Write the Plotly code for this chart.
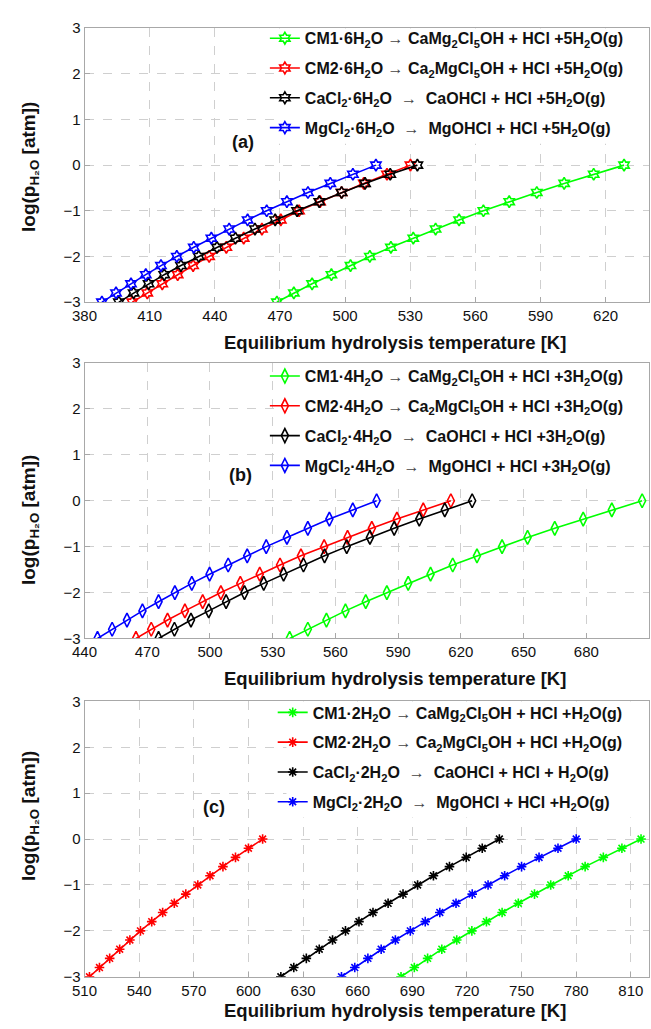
import plotly.graph_objects as go

# log10 of water partial pressure at which each curve is evaluated
log_p = [-3.0, -2.8, -2.6, -2.4, -2.2, -2.0, -1.8, -1.6, -1.4, -1.2, -1.0, -0.8, -0.6, -0.4, -0.2, 0.0]

# (a) hexahydrates -> equilibrium hydrolysis temperature [K]
t_a_cm1 = [468.6, 476.4, 484.8, 493.7, 502.5, 511.4, 521.1, 531.4, 541.7, 552.5, 563.7, 575.6, 588.3, 600.9, 614.5, 628.5]
t_a_cm2 = [402.0, 408.9, 415.8, 422.9, 430.0, 437.4, 445.3, 453.3, 461.7, 470.4, 478.8, 488.5, 498.4, 508.6, 519.3, 530.1]
t_a_ca = [395.8, 402.6, 409.5, 416.7, 424.4, 432.6, 441.0, 449.5, 458.5, 467.8, 477.9, 488.1, 498.4, 509.2, 520.8, 533.3]
t_a_mg = [388.0, 394.5, 401.4, 408.2, 415.2, 422.5, 430.3, 438.4, 446.6, 455.1, 463.9, 473.2, 482.9, 493.2, 503.6, 514.2]

# (b) tetrahydrates
t_b_cm1 = [538.1, 546.8, 555.7, 564.8, 574.5, 584.6, 594.8, 605.5, 616.1, 627.7, 639.7, 651.9, 664.9, 678.5, 692.2, 706.7]
t_b_cm2 = [464.6, 471.9, 479.7, 488.0, 496.5, 505.2, 514.5, 523.8, 533.5, 543.5, 554.6, 565.8, 577.4, 589.4, 602.0, 615.2]
t_b_ca = [475.4, 483.0, 490.9, 499.4, 507.7, 516.5, 525.7, 535.2, 544.7, 554.8, 565.4, 576.5, 588.1, 600.1, 612.3, 625.4]
t_b_mg = [446.2, 453.2, 460.3, 467.7, 475.4, 483.2, 491.3, 499.8, 508.7, 517.8, 526.9, 536.8, 546.8, 557.1, 568.3, 579.7]

# (c) dihydrates
t_c_cm1 = [683.8, 691.1, 698.4, 706.2, 714.4, 722.7, 730.7, 739.3, 748.2, 757.1, 766.0, 775.6, 784.9, 794.9, 805.1, 815.6]
t_c_cm2 = [512.7, 518.2, 523.8, 529.3, 534.9, 540.7, 546.9, 552.9, 559.3, 565.6, 572.2, 578.9, 586.0, 592.9, 600.0, 607.8]
t_c_ca = [617.8, 624.9, 631.8, 638.9, 646.2, 653.3, 660.7, 668.4, 676.7, 684.9, 692.9, 701.6, 710.4, 719.6, 728.4, 737.8]
t_c_mg = [651.1, 658.4, 665.6, 672.9, 680.7, 688.9, 697.1, 705.1, 714.0, 722.9, 731.6, 740.7, 750.0, 759.6, 770.0, 780.0]

x_ticks_a = [380, 410, 440, 470, 500, 530, 560, 590, 620]
x_ticks_b = [440, 470, 500, 530, 560, 590, 620, 650, 680]
x_ticks_c = [510, 540, 570, 600, 630, 660, 690, 720, 750, 780, 810]
y_ticks = [-3, -2, -1, 0, 1, 2, 3]

ARW = '<span style="font-weight:normal;fill:#444444"> \u2192 </span>'
NB = "\u00a0"

labels_a = [
    "CM1\u00b76H<sub>2</sub>O" + ARW + "CaMg<sub>2</sub>Cl<sub>5</sub>OH + HCl +5H<sub>2</sub>O(g)",
    "CM2\u00b76H<sub>2</sub>O" + ARW + "Ca<sub>2</sub>MgCl<sub>5</sub>OH + HCl +5H<sub>2</sub>O(g)",
    "CaCl<sub>2</sub>\u00b76H<sub>2</sub>O" + NB + ARW + NB + "CaOHCl + HCl +5H<sub>2</sub>O(g)",
    "MgCl<sub>2</sub>\u00b76H<sub>2</sub>O" + NB + ARW + NB + "MgOHCl + HCl +5H<sub>2</sub>O(g)",
]
labels_b = [
    "CM1\u00b74H<sub>2</sub>O" + ARW + "CaMg<sub>2</sub>Cl<sub>5</sub>OH + HCl +3H<sub>2</sub>O(g)",
    "CM2\u00b74H<sub>2</sub>O" + ARW + "Ca<sub>2</sub>MgCl<sub>5</sub>OH + HCl +3H<sub>2</sub>O(g)",
    "CaCl<sub>2</sub>\u00b74H<sub>2</sub>O" + NB + ARW + NB + "CaOHCl + HCl +3H<sub>2</sub>O(g)",
    "MgCl<sub>2</sub>\u00b74H<sub>2</sub>O" + NB + ARW + NB + "MgOHCl + HCl +3H<sub>2</sub>O(g)",
]
labels_c = [
    "CM1\u00b72H<sub>2</sub>O" + ARW + "CaMg<sub>2</sub>Cl<sub>5</sub>OH + HCl +H<sub>2</sub>O(g)",
    "CM2\u00b72H<sub>2</sub>O" + ARW + "Ca<sub>2</sub>MgCl<sub>5</sub>OH + HCl +H<sub>2</sub>O(g)",
    "CaCl<sub>2</sub>\u00b72H<sub>2</sub>O" + NB + ARW + NB + "CaOHCl + HCl + H<sub>2</sub>O(g)",
    "MgCl<sub>2</sub>\u00b72H<sub>2</sub>O" + NB + ARW + NB + "MgOHCl + HCl +H<sub>2</sub>O(g)",
]

colors = ["#00ff00", "#ff0000", "#000000", "#0000ff"]
FONT = "Liberation Sans, Arial, sans-serif"

W, H = 651, 1029
X0, X1 = 73, 649  # plot area left/right in pixels


def py(px):
    """Pixel row -> paper y."""
    return 1 - px / H


def px_(px):
    return px / W


panels = [
    dict(series=[t_a_cm1, t_a_cm2, t_a_ca, t_a_mg], labels=labels_a, symbol="hexagram-open",
         size=9, xr=[380, 640], ticks=x_ticks_a, top=19.5, bot=298, legend="legend",
         tag="(a)", tagpos=(235, 135), ytitle=161, xtitle=339, leg=(257, 12.5), box=137),
    dict(series=[t_b_cm1, t_b_cm2, t_b_ca, t_b_mg], labels=labels_b, symbol="diamond-tall-open",
         size=10, xr=[440, 710], ticks=x_ticks_b, top=360, bot=640, legend="legend2",
         tag="(b)", tagpos=(232, 474), ytitle=520, xtitle=681, leg=(257, 356), box=482),
    dict(series=[t_c_cm1, t_c_cm2, t_c_ca, t_c_mg], labels=labels_c, symbol="asterisk-open",
         size=8, xr=[510, 820], ticks=x_ticks_c, top=704, bot=984, legend="legend3",
         tag="(c)", tagpos=(205, 811), ytitle=821, xtitle=1018, leg=(265, 698), box=822),
]

fig = go.Figure()
layout = dict(
    width=W, height=H, margin=dict(l=0, r=0, t=0, b=0),
    paper_bgcolor="white", plot_bgcolor="white",
    font=dict(family=FONT, size=15, color="#111111"),
    annotations=[], shapes=[],
)

for i, p in enumerate(panels):
    n = "" if i == 0 else str(i + 1)
    xa, ya = "x" + n, "y" + n
    for s, lab, c in zip(p["series"], p["labels"], colors):
        fig.add_trace(go.Scatter(
            x=s, y=log_p, xaxis=xa, yaxis=ya, mode="lines+markers", name=lab,
            line=dict(color=c, width=1.6),
            marker=dict(symbol=p["symbol"], size=p["size"], color=c,
                        line=dict(color=c, width=1.6)),
            legend=p["legend"], legendgroup=p["legend"] + lab,
        ))
    axis_common = dict(
        showgrid=True, gridcolor="#cfcfcf", griddash="dash", gridwidth=1,
        showline=True, linecolor="#a8a8a8", linewidth=1, mirror=True,
        ticks="inside", ticklen=5, tickcolor="#a8a8a8", zeroline=False,
        tickfont=dict(family=FONT, size=15, color="#111111"),
    )
    layout["xaxis" + n] = dict(
        axis_common, domain=[px_(X0), px_(X1)], range=p["xr"], tickvals=p["ticks"],
        anchor=ya,
    )
    layout["yaxis" + n] = dict(
        axis_common, domain=[py(p["bot"]), py(p["top"])], range=[-3, 3], tickvals=y_ticks,
        anchor=xa,
    )
    layout[p["legend"]] = dict(
        x=px_(p["leg"][0]), y=py(p["leg"][1]), xanchor="left", yanchor="top",
        bgcolor="rgba(0,0,0,0)", borderwidth=0, traceorder="grouped", tracegroupgap=6,
        font=dict(family=FONT, size=16, color="#111111", weight="bold"),
        itemwidth=30,
    )
    # white backing behind the legend that masks the grid (axis coordinates)
    xr0, xr1 = p["xr"]
    layout["shapes"].append(dict(
        type="rect", xref=xa, yref=ya, layer="between",
        x0=xr0 + (p["leg"][0] + 14 - X0) / (X1 - X0) * (xr1 - xr0), x1=xr1,
        y0=3 - (p["box"] - p["top"]) / (p["bot"] - p["top"]) * 6, y1=3,
        fillcolor="white", line=dict(width=0),
    ))
    layout["annotations"] += [
        dict(text="<b>" + p["tag"] + "</b>", x=px_(p["tagpos"][0]), y=py(p["tagpos"][1]),
             xref="paper", yref="paper", xanchor="center", yanchor="middle",
             showarrow=False, font=dict(size=18, family=FONT)),
        dict(text="<b>Equilibrium hydrolysis temperature [K]</b>", x=px_(390), y=py(p["xtitle"]),
             xref="paper", yref="paper", xanchor="center", yanchor="middle",
             showarrow=False, font=dict(size=18.5, family=FONT)),
        dict(text="<b>log(p<sub>H\u2082O</sub> [atm])</b>", x=px_(18), y=py(p["ytitle"]),
             xref="paper", yref="paper", xanchor="center", yanchor="middle",
             showarrow=False, textangle=-90, font=dict(size=19, family=FONT)),
    ]

fig.update_layout(**layout)
fig.write_html("out.html")
